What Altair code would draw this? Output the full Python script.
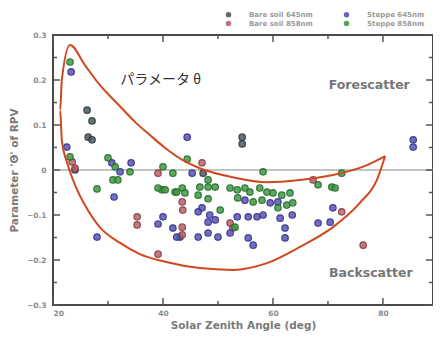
import altair as alt
import pandas as pd

# ---------------- data ----------------
series_names = ["Bare soil 645nm", "Bare soil 858nm", "Steppe 645nm", "Steppe 858nm"]
series_fill = ["#4e5b60", "#b4646a", "#5a54b2", "#3f9a45"]
series_edge = ["#2f3a3e", "#8a3d45", "#38338f", "#276d2c"]

bare645_x = [26.2, 27.1, 26.4, 27.1, 54.4, 54.4, 47.3, 43.1, 24.0]
bare645_y = [0.133, 0.109, 0.073, 0.067, 0.073, 0.058, -0.007, -0.149, 0.000]

bare858_x = [23.5, 24.0, 35.3, 35.3, 39.1, 47.1, 43.5, 43.6, 43.5, 43.5, 39.1, 52.2, 52.7, 67.3, 72.5, 76.4]
bare858_y = [0.018, 0.004, -0.104, -0.122, -0.007, 0.016, -0.071, -0.089, -0.127, -0.144, -0.187,
             -0.118, -0.129, -0.022, -0.093, -0.167]

steppe645_x = [23.3, 22.5, 30.7, 32.2, 34.2, 31.1, 28.0, 44.4, 40.0, 39.1, 45.3, 47.1, 46.4, 48.5, 49.5,
               48.2, 41.8, 42.5, 46.4, 48.2, 50.0, 53.5, 55.5, 57.1, 58.2, 61.3, 63.5, 62.2, 62.2, 55.5,
               56.4, 52.2, 54.9, 59.5, 60.9, 70.9, 68.2, 70.4, 85.5, 85.5]
steppe645_y = [0.218, 0.051, 0.016, -0.004, 0.016, -0.060, -0.149, 0.073, -0.104, -0.120, -0.007, -0.084,
               -0.093, -0.100, -0.111, -0.116, -0.129, -0.149, -0.149, -0.140, -0.149, -0.104, -0.104,
               -0.104, -0.100, -0.107, -0.100, -0.129, -0.151, -0.151, -0.167, -0.140, -0.067, -0.073,
               -0.071, -0.084, -0.118, -0.116, 0.067, 0.051]

steppe858_x = [23.1, 23.1, 30.0, 31.3, 34.0, 30.9, 31.8, 28.0, 40.0, 41.8, 44.4, 48.2, 39.8, 42.2, 43.5,
               44.0, 46.7, 48.2, 49.5, 48.2, 46.4, 58.2, 52.2, 53.5, 54.9, 55.8, 57.6, 58.9, 60.0, 61.6,
               63.1, 53.6, 56.4, 58.0, 62.5, 63.6, 60.9, 50.4, 68.2, 70.7, 71.3, 72.5, 53.1, 39.1, 40.4,
               42.5]
steppe858_y = [0.240, 0.029, 0.027, 0.007, -0.004, -0.022, -0.022, -0.042, 0.007, -0.007, 0.024, -0.022,
               -0.044, -0.049, -0.040, -0.051, -0.038, -0.038, -0.038, -0.064, -0.056, -0.004, -0.040,
               -0.044, -0.040, -0.049, -0.040, -0.049, -0.051, -0.056, -0.051, -0.062, -0.071, -0.067,
               -0.078, -0.073, -0.084, -0.089, -0.033, -0.038, -0.040, -0.007, -0.127, -0.040, -0.044,
               -0.049]

# crescent outline (inner arc from right tip to top tip, then outer arc back to right tip)
crescent_x = [80.4, 77.1, 70.9, 64.9, 58.9, 52.7, 46.7, 43.6, 40.4, 37.6, 34.9, 31.6, 28.5, 25.8, 23.1,
              21.6, 21.3, 21.6, 22.7, 24.0, 25.8, 28.5, 32.2, 35.8, 40.4, 46.7, 52.7, 58.9, 64.9, 70.9,
              75.8, 78.9, 80.4]
crescent_y = [0.031, 0.011, -0.011, -0.022, -0.027, -0.016, 0.004, 0.022, 0.049, 0.078, 0.107, 0.149,
              0.189, 0.233, 0.278, 0.200, 0.133, 0.067, 0.011, -0.033, -0.078, -0.127, -0.162, -0.187,
              -0.204, -0.218, -0.222, -0.207, -0.171, -0.127, -0.073, -0.022, 0.031]

x_major = [20, 40, 60, 80]
x_minor = [30, 50, 70]
y_major = [-0.3, -0.2, -0.1, 0.0, 0.1, 0.2, 0.3]
y_minor = [-0.25, -0.15, -0.05, 0.05, 0.15, 0.25]

annotations = ["パラメータ θ", "Forescatter", "Backscatter"]
annot_x = [39.6, 77.5, 77.8]
annot_y = [0.200, 0.189, -0.229]

X_DOM = [20, 89.1]
Y_DOM = [-0.3, 0.3]
W, H = 380, 270
BOLD = "DejaVu Sans"

# ---------------- tables ----------------
rows = []
for name, xs_, ys_ in [("Bare soil 645nm", bare645_x, bare645_y),
                       ("Bare soil 858nm", bare858_x, bare858_y),
                       ("Steppe 645nm", steppe645_x, steppe645_y),
                       ("Steppe 858nm", steppe858_x, steppe858_y)]:
    for a, b in zip(xs_, ys_):
        rows.append({"sza": a, "theta": b, "series": name})
pts = pd.DataFrame(rows)
curve = pd.DataFrame({"x": crescent_x, "y": crescent_y, "o": list(range(len(crescent_x)))})

xs = alt.Scale(domain=X_DOM, nice=False, zero=False)
ys = alt.Scale(domain=Y_DOM, nice=False, zero=False)

lab = dict(labelColor="#8a8a8a", labelFont=BOLD, labelFontWeight="bold", labelFontSize=7.5,
           titleColor="#7a7a7a", titleFont=BOLD, titleFontWeight="bold", titleFontSize=10.5,
           ticks=False, domain=False, grid=False)

x_axis = alt.Axis(values=x_major, format="d", labelPadding=4, title="Solar Zenith Angle (deg)",
                  titlePadding=4, **lab)
y_axis = alt.Axis(values=y_major, format=".1~f", labelPadding=7, title="Parameter 'Θ' of RPV",
                  titlePadding=7, **lab)

zero_line = alt.Chart(pd.DataFrame({"y": [0.0]})).mark_rule(color="#b0b0b0", strokeWidth=1.5).encode(
    y=alt.Y("y:Q", scale=ys, axis=y_axis))

points = alt.Chart(pts).mark_circle(size=42, fillOpacity=0.85, strokeWidth=1.2, strokeOpacity=0.9).encode(
    x=alt.X("sza:Q", scale=xs, axis=x_axis),
    y=alt.Y("theta:Q", scale=ys, axis=y_axis),
    fill=alt.Fill("series:N", scale=alt.Scale(domain=series_names, range=series_fill),
                  legend=alt.Legend(title=None, orient="none", legendX=172, legendY=-24, columns=2,
                                    columnPadding=30, rowPadding=1, symbolSize=30, symbolType="circle",
                                    labelFontSize=7, labelColor="#9a9a9a", labelFont=BOLD,
                                    labelFontWeight="bold", symbolStrokeWidth=0, labelOffset=17,
                                    labelLimit=200, symbolOpacity=0.9, direction="vertical")),
    stroke=alt.Stroke("series:N", scale=alt.Scale(domain=series_names, range=series_edge), legend=None),
)

crescent = alt.Chart(curve).mark_line(color="#d0481f", strokeWidth=2, interpolate="monotone").encode(
    x=alt.X("x:Q", scale=xs), y=alt.Y("y:Q", scale=ys), order=alt.Order("o:Q"))

ann = pd.DataFrame({"t": annotations, "x": annot_x, "y": annot_y})
jp = alt.Chart(ann.iloc[[0]]).mark_text(font="Noto Sans CJK JP", fontSize=14, color="#333333").encode(
    x=alt.X("x:Q", scale=xs), y=alt.Y("y:Q", scale=ys), text="t:N")
en = alt.Chart(ann.iloc[[1, 2]]).mark_text(font=BOLD, fontWeight="bold", fontSize=12.5,
                                           color="#777777").encode(
    x=alt.X("x:Q", scale=xs), y=alt.Y("y:Q", scale=ys), text="t:N")

tick_color = "#555555"

def xticks(vals, length):
    df = pd.DataFrame({"v": vals})
    b = alt.Chart(df).mark_rule(color=tick_color, strokeWidth=1.5).encode(
        x=alt.X("v:Q", scale=xs), y=alt.value(H), y2=alt.value(H - length))
    t = alt.Chart(df).mark_rule(color=tick_color, strokeWidth=1.5).encode(
        x=alt.X("v:Q", scale=xs), y=alt.value(0), y2=alt.value(length))
    return b + t

def yticks(vals, length):
    df = pd.DataFrame({"v": vals})
    l = alt.Chart(df).mark_rule(color=tick_color, strokeWidth=1.5).encode(
        y=alt.Y("v:Q", scale=ys), x=alt.value(0), x2=alt.value(length))
    r = alt.Chart(df).mark_rule(color=tick_color, strokeWidth=1.5).encode(
        y=alt.Y("v:Q", scale=ys), x=alt.value(W), x2=alt.value(W - length))
    return l + r

chart = alt.layer(
    zero_line, points, crescent, jp, en,
    xticks(x_major, 7), xticks(x_minor, 4), yticks(y_major, 7), yticks(y_minor, 4),
).properties(
    width=W, height=H,
    autosize=alt.AutoSizeParams(type="none"),
    padding={"left": 45, "top": 27, "right": 0, "bottom": 27},
    background="#ffffff",
).configure_view(stroke="#4a4a4a", strokeWidth=2)

chart.save("out.html", embed_options={"renderer": "svg", "actions": False})
